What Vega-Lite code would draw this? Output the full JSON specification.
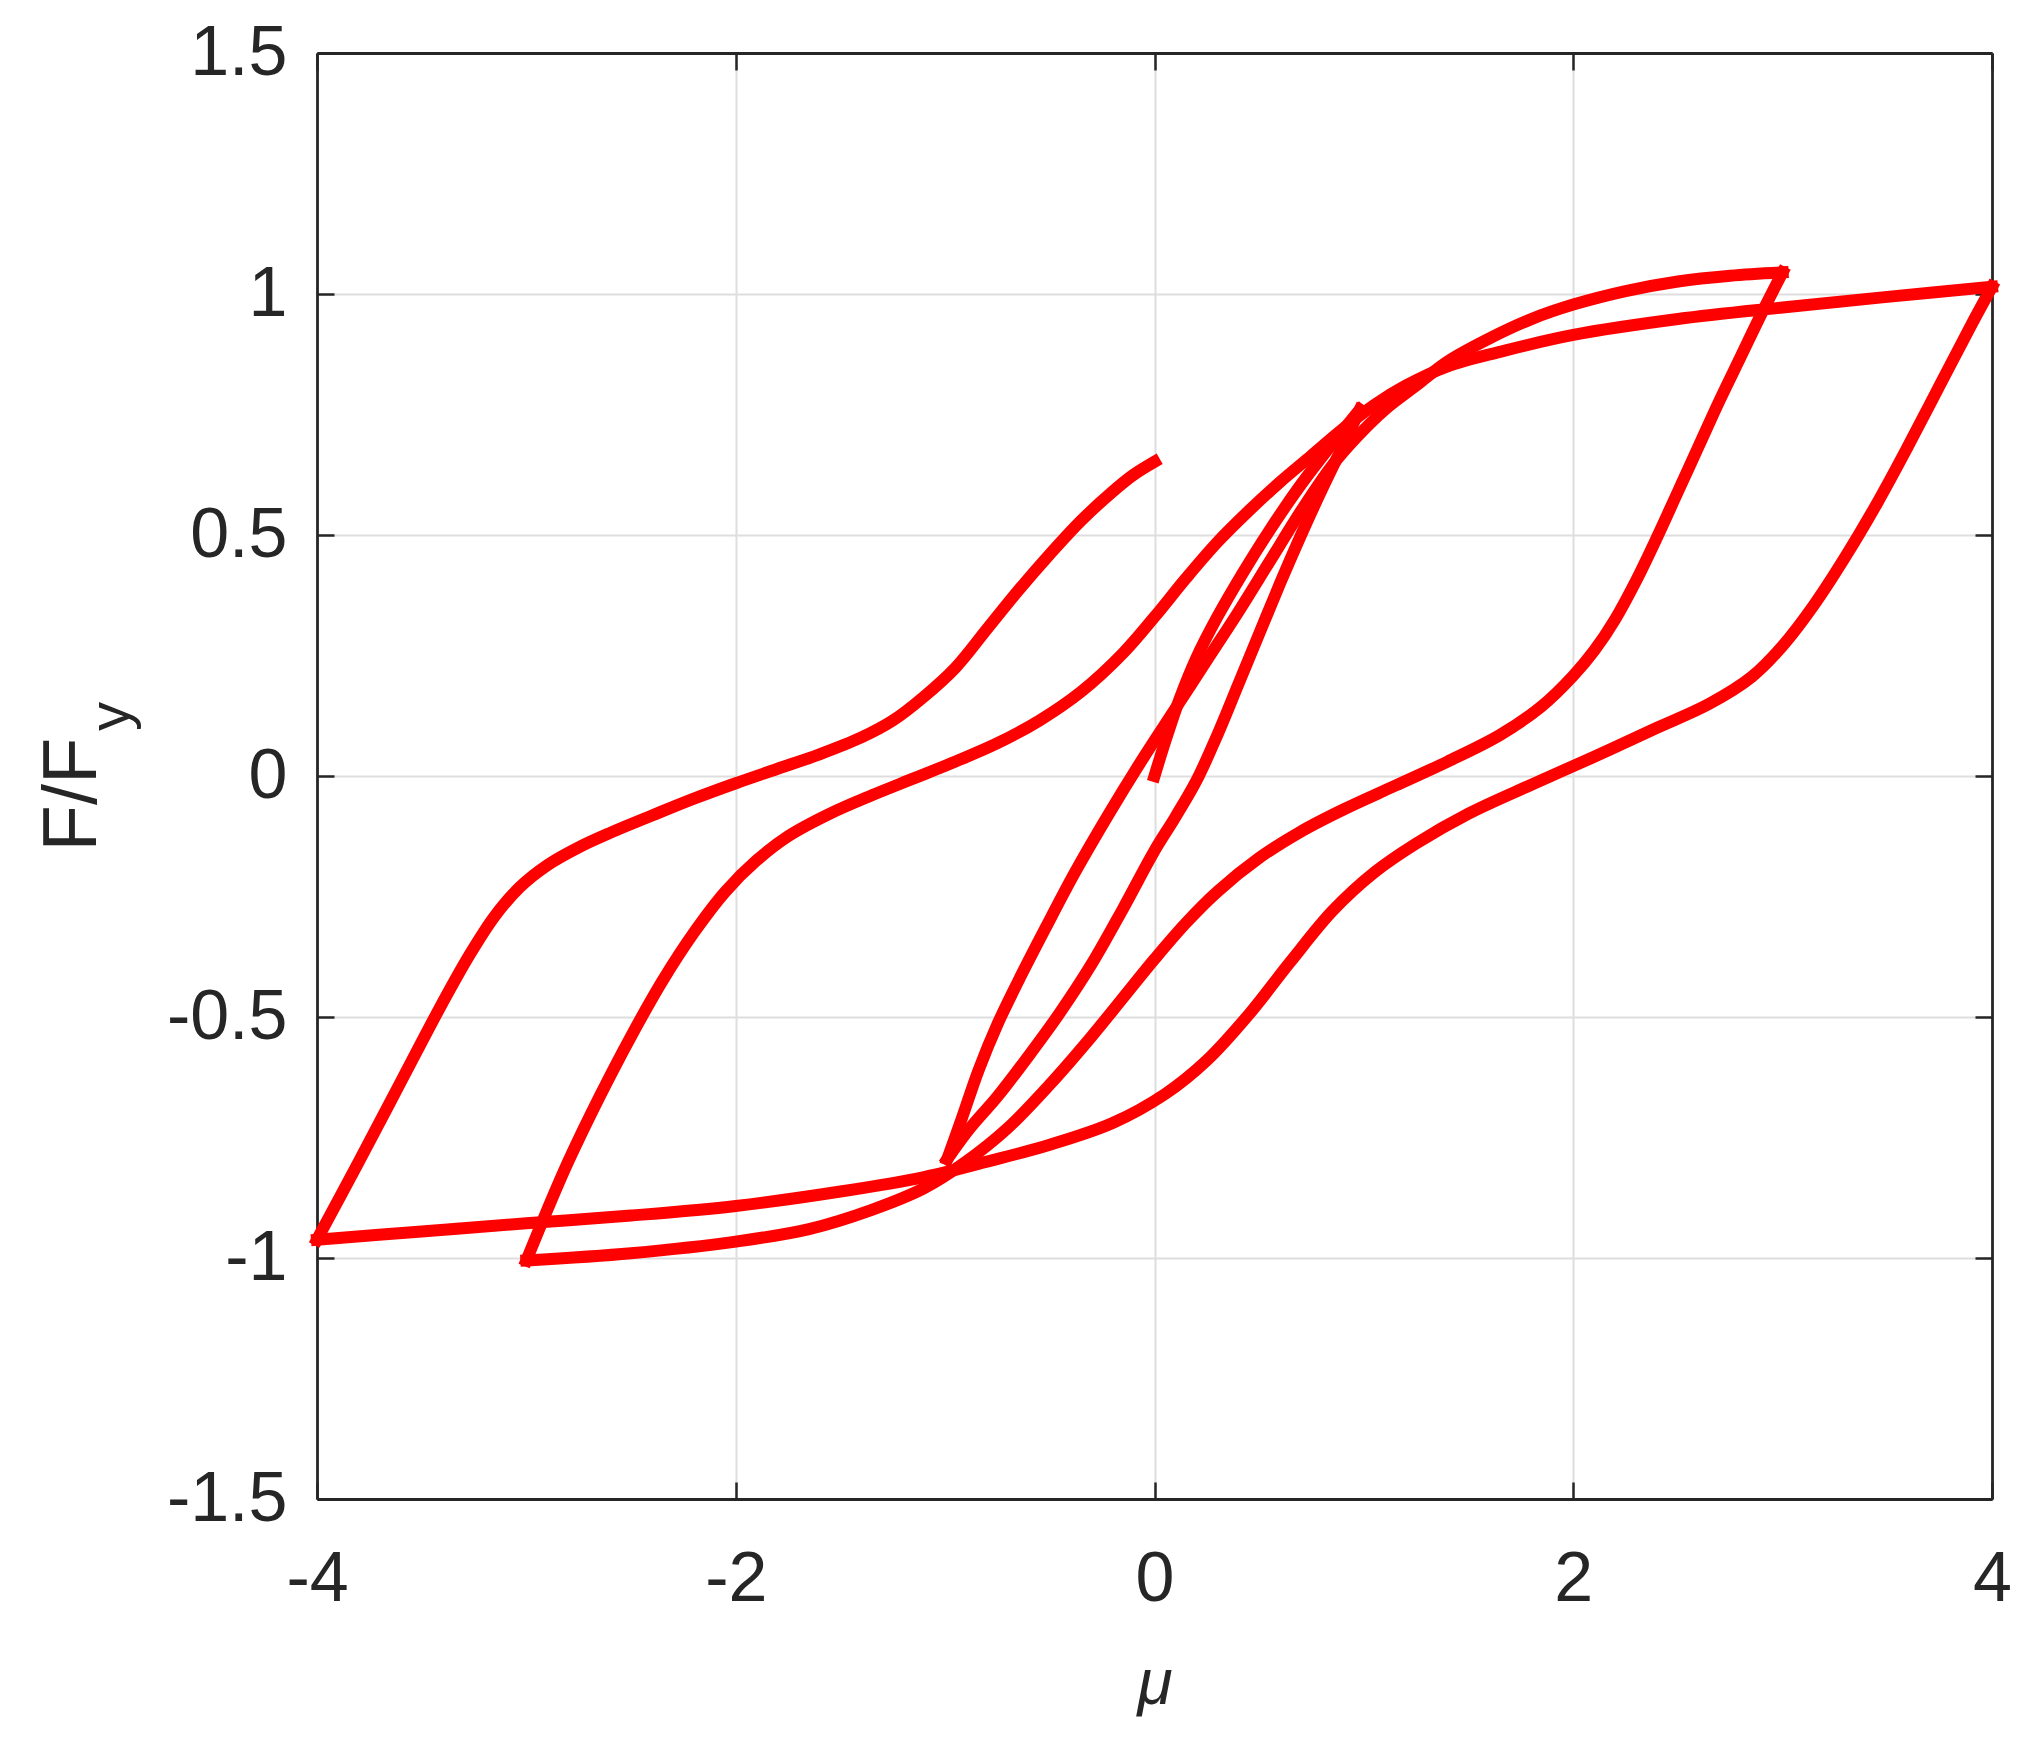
{
  "$schema": "https://vega.github.io/schema/vega-lite/v6.json",
  "width": 1675,
  "height": 1446,
  "autosize": {"type": "none"},
  "padding": {"left": 317, "top": 53, "right": 45, "bottom": 241},
  "background": "white",
  "config": {
    "view": {"stroke": null},
    "axis": {
      "labelFont": "Liberation Sans",
      "titleFont": "Liberation Sans",
      "labelColor": "#262626",
      "titleColor": "#262626",
      "tickColor": "#262626",
      "tickWidth": 2.5,
      "tickSize": -17,
      "gridColor": "#dedede",
      "gridWidth": 2,
      "domain": true,
      "domainColor": "#262626",
      "domainWidth": 2.8,
      "titleFontWeight": "normal"
    }
  },
  "data": {
    "values": [
      {"b":1,"i":1,"mu":0,"f":0},{"b":1,"i":2,"mu":0.05,"f":0.07},{"b":1,"i":3,"mu":0.12,"f":0.16},{"b":1,"i":4,"mu":0.2,"f":0.245},{"b":1,"i":5,"mu":0.3,"f":0.33},{"b":1,"i":6,"mu":0.42,"f":0.42},{"b":1,"i":7,"mu":0.55,"f":0.51},{"b":1,"i":8,"mu":0.7,"f":0.605},{"b":1,"i":9,"mu":0.85,"f":0.69},{"b":1,"i":10,"mu":0.98,"f":0.76},
      {"b":2,"i":10,"mu":0.98,"f":0.76},{"b":2,"i":11,"mu":0.9,"f":0.685},{"b":2,"i":12,"mu":0.8,"f":0.595},{"b":2,"i":13,"mu":0.7,"f":0.5},{"b":2,"i":14,"mu":0.6,"f":0.4},{"b":2,"i":15,"mu":0.5,"f":0.295},{"b":2,"i":16,"mu":0.4,"f":0.19},{"b":2,"i":17,"mu":0.3,"f":0.085},{"b":2,"i":18,"mu":0.2,"f":-0.01},{"b":2,"i":19,"mu":0.1,"f":-0.085},{"b":2,"i":20,"mu":0.0,"f":-0.155},{"b":2,"i":21,"mu":-0.15,"f":-0.275},{"b":2,"i":22,"mu":-0.3,"f":-0.39},{"b":2,"i":23,"mu":-0.45,"f":-0.49},{"b":2,"i":24,"mu":-0.6,"f":-0.58},{"b":2,"i":25,"mu":-0.75,"f":-0.665},{"b":2,"i":26,"mu":-0.88,"f":-0.73},{"b":2,"i":27,"mu":-0.99,"f":-0.795},
      {"b":3,"i":27,"mu":-0.99,"f":-0.795},{"b":3,"i":28,"mu":-0.92,"f":-0.71},{"b":3,"i":29,"mu":-0.84,"f":-0.61},{"b":3,"i":30,"mu":-0.75,"f":-0.515},{"b":3,"i":31,"mu":-0.65,"f":-0.425},{"b":3,"i":32,"mu":-0.52,"f":-0.315},{"b":3,"i":33,"mu":-0.38,"f":-0.2},{"b":3,"i":34,"mu":-0.22,"f":-0.08},{"b":3,"i":35,"mu":-0.05,"f":0.04},{"b":3,"i":36,"mu":0.1,"f":0.14},{"b":3,"i":37,"mu":0.25,"f":0.24},{"b":3,"i":38,"mu":0.4,"f":0.34},{"b":3,"i":39,"mu":0.55,"f":0.445},{"b":3,"i":40,"mu":0.7,"f":0.55},{"b":3,"i":41,"mu":0.85,"f":0.645},{"b":3,"i":42,"mu":0.97,"f":0.705},{"b":3,"i":43,"mu":1.1,"f":0.76},{"b":3,"i":44,"mu":1.25,"f":0.81},{"b":3,"i":45,"mu":1.4,"f":0.86},{"b":3,"i":46,"mu":1.6,"f":0.908},{"b":3,"i":47,"mu":1.8,"f":0.948},{"b":3,"i":48,"mu":2.0,"f":0.978},{"b":3,"i":49,"mu":2.25,"f":1.006},{"b":3,"i":50,"mu":2.5,"f":1.026},{"b":3,"i":51,"mu":2.75,"f":1.038},{"b":3,"i":52,"mu":3.0,"f":1.045},
      {"b":4,"i":52,"mu":3.0,"f":1.045},{"b":4,"i":53,"mu":2.9,"f":0.96},{"b":4,"i":54,"mu":2.8,"f":0.87},{"b":4,"i":55,"mu":2.7,"f":0.78},{"b":4,"i":56,"mu":2.6,"f":0.685},{"b":4,"i":57,"mu":2.5,"f":0.59},{"b":4,"i":58,"mu":2.4,"f":0.495},{"b":4,"i":59,"mu":2.3,"f":0.405},{"b":4,"i":60,"mu":2.2,"f":0.325},{"b":4,"i":61,"mu":2.1,"f":0.26},{"b":4,"i":62,"mu":2.0,"f":0.208},{"b":4,"i":63,"mu":1.85,"f":0.145},{"b":4,"i":64,"mu":1.65,"f":0.085},{"b":4,"i":65,"mu":1.4,"f":0.03},{"b":4,"i":66,"mu":1.15,"f":-0.02},{"b":4,"i":67,"mu":0.9,"f":-0.07},{"b":4,"i":68,"mu":0.7,"f":-0.115},{"b":4,"i":69,"mu":0.5,"f":-0.17},{"b":4,"i":70,"mu":0.3,"f":-0.24},{"b":4,"i":71,"mu":0.15,"f":-0.305},{"b":4,"i":72,"mu":0.0,"f":-0.38},{"b":4,"i":73,"mu":-0.15,"f":-0.46},{"b":4,"i":74,"mu":-0.3,"f":-0.54},{"b":4,"i":75,"mu":-0.5,"f":-0.64},{"b":4,"i":76,"mu":-0.7,"f":-0.73},{"b":4,"i":77,"mu":-0.9,"f":-0.8},{"b":4,"i":78,"mu":-1.1,"f":-0.855},{"b":4,"i":79,"mu":-1.35,"f":-0.9},{"b":4,"i":80,"mu":-1.65,"f":-0.94},{"b":4,"i":81,"mu":-2.0,"f":-0.966},{"b":4,"i":82,"mu":-2.5,"f":-0.99},{"b":4,"i":83,"mu":-3.0,"f":-1.005},
      {"b":5,"i":83,"mu":-3.0,"f":-1.005},{"b":5,"i":84,"mu":-2.9,"f":-0.9},{"b":5,"i":85,"mu":-2.8,"f":-0.8},{"b":5,"i":86,"mu":-2.65,"f":-0.665},{"b":5,"i":87,"mu":-2.5,"f":-0.54},{"b":5,"i":88,"mu":-2.35,"f":-0.425},{"b":5,"i":89,"mu":-2.2,"f":-0.325},{"b":5,"i":90,"mu":-2.05,"f":-0.24},{"b":5,"i":91,"mu":-1.9,"f":-0.175},{"b":5,"i":92,"mu":-1.75,"f":-0.125},{"b":5,"i":93,"mu":-1.55,"f":-0.078},{"b":5,"i":94,"mu":-1.35,"f":-0.04},{"b":5,"i":95,"mu":-1.15,"f":-0.005},{"b":5,"i":96,"mu":-0.95,"f":0.03},{"b":5,"i":97,"mu":-0.75,"f":0.068},{"b":5,"i":98,"mu":-0.55,"f":0.115},{"b":5,"i":99,"mu":-0.35,"f":0.175},{"b":5,"i":100,"mu":-0.15,"f":0.255},{"b":5,"i":101,"mu":0.0,"f":0.33},{"b":5,"i":102,"mu":0.15,"f":0.41},{"b":5,"i":103,"mu":0.3,"f":0.485},{"b":5,"i":104,"mu":0.45,"f":0.55},{"b":5,"i":105,"mu":0.6,"f":0.61},{"b":5,"i":106,"mu":0.75,"f":0.665},{"b":5,"i":107,"mu":0.9,"f":0.72},{"b":5,"i":108,"mu":1.05,"f":0.77},{"b":5,"i":109,"mu":1.2,"f":0.81},{"b":5,"i":110,"mu":1.4,"f":0.85},{"b":5,"i":111,"mu":1.65,"f":0.88},{"b":5,"i":112,"mu":2.0,"f":0.915},{"b":5,"i":113,"mu":2.5,"f":0.948},{"b":5,"i":114,"mu":3.0,"f":0.972},{"b":5,"i":115,"mu":3.5,"f":0.994},{"b":5,"i":116,"mu":4.0,"f":1.015},
      {"b":6,"i":116,"mu":4.0,"f":1.015},{"b":6,"i":117,"mu":3.9,"f":0.935},{"b":6,"i":118,"mu":3.75,"f":0.81},{"b":6,"i":119,"mu":3.6,"f":0.685},{"b":6,"i":120,"mu":3.45,"f":0.565},{"b":6,"i":121,"mu":3.3,"f":0.455},{"b":6,"i":122,"mu":3.15,"f":0.355},{"b":6,"i":123,"mu":3.0,"f":0.27},{"b":6,"i":124,"mu":2.85,"f":0.205},{"b":6,"i":125,"mu":2.65,"f":0.15},{"b":6,"i":126,"mu":2.4,"f":0.1},{"b":6,"i":127,"mu":2.1,"f":0.04},{"b":6,"i":128,"mu":1.8,"f":-0.018},{"b":6,"i":129,"mu":1.5,"f":-0.078},{"b":6,"i":130,"mu":1.25,"f":-0.14},{"b":6,"i":131,"mu":1.05,"f":-0.2},{"b":6,"i":132,"mu":0.85,"f":-0.28},{"b":6,"i":133,"mu":0.65,"f":-0.385},{"b":6,"i":134,"mu":0.45,"f":-0.495},{"b":6,"i":135,"mu":0.25,"f":-0.59},{"b":6,"i":136,"mu":0.05,"f":-0.66},{"b":6,"i":137,"mu":-0.2,"f":-0.72},{"b":6,"i":138,"mu":-0.5,"f":-0.765},{"b":6,"i":139,"mu":-0.8,"f":-0.8},{"b":6,"i":140,"mu":-1.1,"f":-0.832},{"b":6,"i":141,"mu":-1.5,"f":-0.862},{"b":6,"i":142,"mu":-2.0,"f":-0.892},{"b":6,"i":143,"mu":-2.5,"f":-0.912},{"b":6,"i":144,"mu":-3.0,"f":-0.928},{"b":6,"i":145,"mu":-3.5,"f":-0.945},{"b":6,"i":146,"mu":-4.0,"f":-0.962},
      {"b":7,"i":146,"mu":-4.0,"f":-0.962},{"b":7,"i":147,"mu":-3.8,"f":-0.8},{"b":7,"i":148,"mu":-3.6,"f":-0.635},{"b":7,"i":149,"mu":-3.4,"f":-0.47},{"b":7,"i":150,"mu":-3.27,"f":-0.37},{"b":7,"i":151,"mu":-3.15,"f":-0.29},{"b":7,"i":152,"mu":-3.03,"f":-0.23},{"b":7,"i":153,"mu":-2.9,"f":-0.185},{"b":7,"i":154,"mu":-2.75,"f":-0.148},{"b":7,"i":155,"mu":-2.6,"f":-0.118},{"b":7,"i":156,"mu":-2.4,"f":-0.082},{"b":7,"i":157,"mu":-2.2,"f":-0.047},{"b":7,"i":158,"mu":-2.0,"f":-0.015},{"b":7,"i":159,"mu":-1.8,"f":0.015},{"b":7,"i":160,"mu":-1.6,"f":0.045},{"b":7,"i":161,"mu":-1.4,"f":0.08},{"b":7,"i":162,"mu":-1.25,"f":0.115},{"b":7,"i":163,"mu":-1.1,"f":0.165},{"b":7,"i":164,"mu":-0.95,"f":0.225},{"b":7,"i":165,"mu":-0.8,"f":0.305},{"b":7,"i":166,"mu":-0.65,"f":0.385},{"b":7,"i":167,"mu":-0.5,"f":0.46},{"b":7,"i":168,"mu":-0.35,"f":0.53},{"b":7,"i":169,"mu":-0.2,"f":0.59},{"b":7,"i":170,"mu":-0.1,"f":0.625},{"b":7,"i":171,"mu":0.0,"f":0.652}
    ]
  },
  "layer": [
    {
      "mark": {"type": "line", "strokeOpacity": 0},
      "encoding": {
        "x": {"field": "mu", "type": "quantitative", "scale": {"domain": [-4, 4], "nice": false, "zero": false},
          "axis": {"orient": "top", "values": [-4, -2, 0, 2, 4], "labels": false, "grid": false, "title": null}},
        "y": {"field": "f", "type": "quantitative", "scale": {"domain": [-1.5, 1.5], "nice": false, "zero": false},
          "axis": {"orient": "right", "values": [-1.5, -1, -0.5, 0, 0.5, 1, 1.5], "labels": false, "grid": false, "title": null}},
        "detail": {"field": "b", "type": "nominal"},
        "order": {"field": "i"}
      }
    },
    {
      "mark": {"type": "line", "strokeOpacity": 0},
      "encoding": {
        "x": {"field": "mu", "type": "quantitative", "axis": null},
        "y": {"field": "f", "type": "quantitative",
          "axis": {"orient": "left", "labels": false, "ticks": false, "grid": false, "domain": false, "title": "y",
            "titleFontSize": 58, "titleAngle": 270, "titleAlign": "center", "titleBaseline": "alphabetic", "titleX": -189, "titleY": 663}},
        "detail": {"field": "b", "type": "nominal"},
        "order": {"field": "i"}
      }
    },
    {
      "mark": {"type": "line", "color": "#ff0000", "strokeWidth": 12, "interpolate": "catmull-rom", "strokeCap": "square", "strokeJoin": "miter"},
      "encoding": {
        "x": {"field": "mu", "type": "quantitative",
          "axis": {"orient": "bottom", "values": [-4, -2, 0, 2, 4], "grid": true, "labelExpr": "'' + datum.value",
            "labelFontSize": 70, "labelBaseline": "alphabetic", "labelPadding": 118, "labelFlush": false,
            "title": "μ", "titleFontSize": 64, "titleFontStyle": "italic", "titleBaseline": "alphabetic", "titleY": 204}},
        "y": {"field": "f", "type": "quantitative",
          "axis": {"orient": "left", "values": [-1.5, -1, -0.5, 0, 0.5, 1, 1.5], "grid": true, "labelExpr": "'' + datum.value",
            "labelFontSize": 70, "labelBaseline": "middle", "labelAlign": "right", "labelPadding": 47, "labelFlush": false,
            "title": "F/F", "titleFontSize": 76, "titleAngle": 270, "titleAlign": "center", "titleBaseline": "alphabetic", "titleX": -222, "titleY": 741}},
        "detail": {"field": "b", "type": "nominal"},
        "order": {"field": "i"}
      }
    }
  ],
  "resolve": {"axis": {"x": "independent", "y": "independent"}}
}
